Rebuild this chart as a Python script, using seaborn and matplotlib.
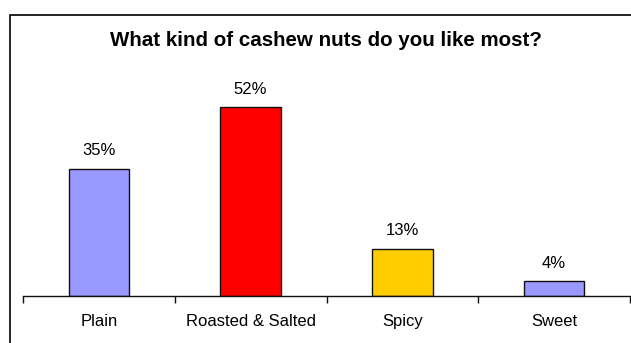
import numpy as np
import pandas as pd
import seaborn as sns
import matplotlib.pyplot as plt
from matplotlib.patches import Rectangle

categories = ['Plain', 'Roasted & Salted', 'Spicy', 'Sweet']
shares = [35, 52, 13, 4]
bar_colors = ['#9999FF', '#FF0000', '#FFCC00', '#9999FF']
title = 'What kind of cashew nuts do you like most?'

sns.set_style('white')
plt.rcParams['font.family'] = ['Liberation Sans', 'DejaVu Sans']
plt.rcParams['text.color'] = 'black'
plt.rcParams['xtick.color'] = 'black'

df = pd.DataFrame({'category': categories, 'share': shares})

fig = plt.figure(figsize=(6.31, 3.43), dpi=100)
ax = fig.add_axes([23 / 631, 1 - 296 / 343, 607 / 631, 218 / 343])

sns.barplot(data=df, x='category', y='share', hue='category', palette=bar_colors,
            saturation=1, width=0.4, edgecolor='#111111', linewidth=1,
            legend=False, ax=ax)

for i, v in enumerate(shares):
    ax.annotate('{}%'.format(v), (i, v), xytext=(0, 7.5), textcoords='offset points',
                ha='center', va='bottom', fontsize=12)

ax.set_ylim(0, 60)
ax.set_xlim(-0.5, len(categories) - 0.5)
ax.set_yticks([])
ax.set_xlabel('')
ax.set_ylabel('')
ax.tick_params(axis='x', which='major', length=0, pad=13, labelsize=12)
ax.set_xticks(np.arange(-0.5, len(categories)), minor=True)
ax.tick_params(axis='x', which='minor', length=5, width=1, color='#111111', direction='out')
ax.xaxis.set_ticks_position('bottom')
sns.despine(ax=ax, left=True, top=True, right=True)
ax.spines['bottom'].set_color('#111111')
ax.spines['bottom'].set_linewidth(1)

fig.text(326 / 631, 1 - 40.5 / 343, title, ha='center', va='center',
         fontsize=14.8, fontweight='bold')

fig.patches.append(Rectangle((9.5 / 631, -0.1), 1.0, 1 - 14.5 / 343 + 0.1,
                             transform=fig.transFigure, fill=False,
                             edgecolor='black', linewidth=1.2))

fig.savefig('out.png', dpi=100)
